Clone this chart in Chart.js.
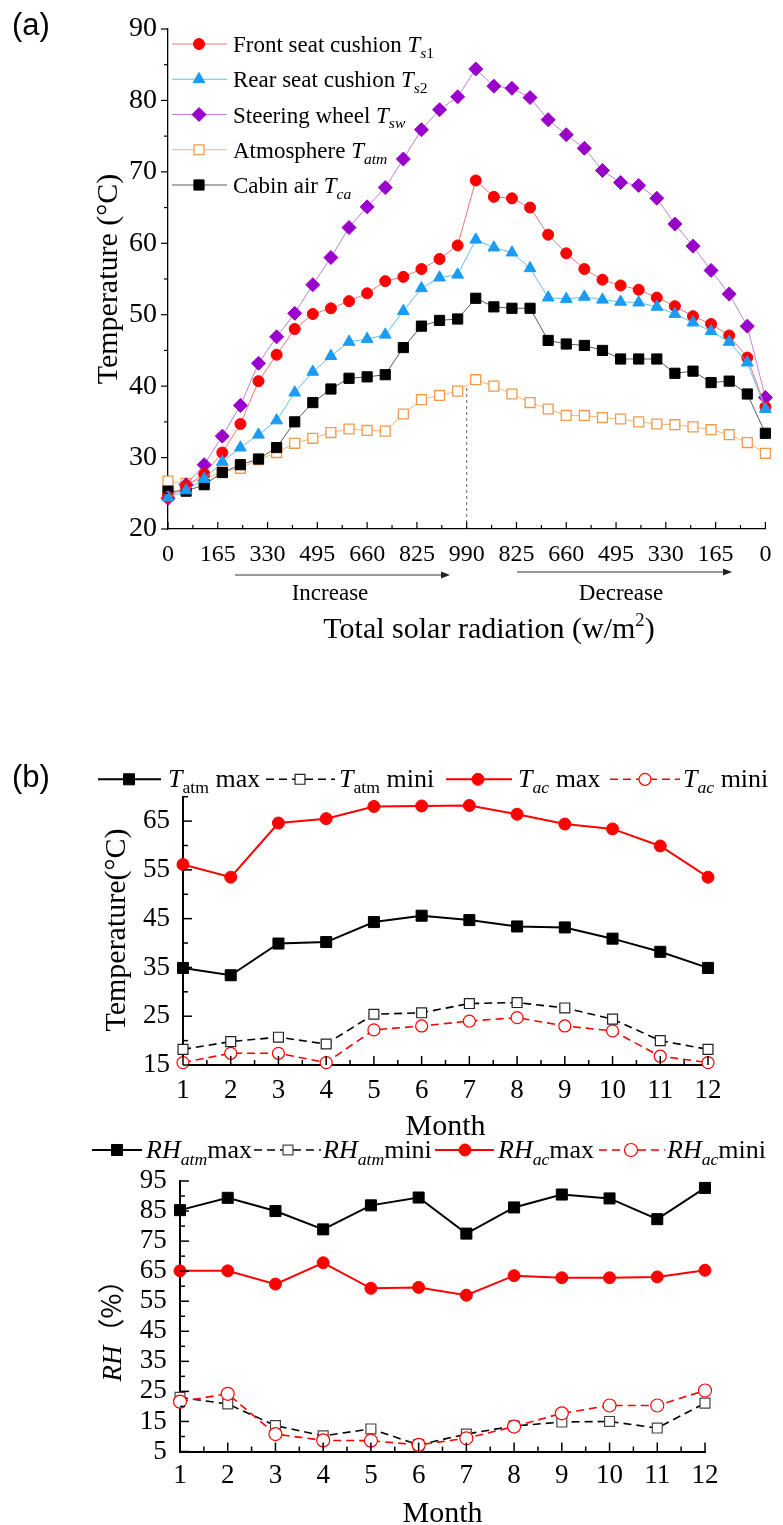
<!DOCTYPE html>
<html>
<head>
<meta charset="utf-8">
<script src="https://cdn.jsdelivr.net/npm/chart.js@4.4.1/dist/chart.umd.min.js"></script>
<style>
html,body{margin:0;padding:0;background:#fff;}
body{width:783px;height:1525px;position:relative;overflow:hidden;}
canvas{position:absolute;left:0;}
</style>
</head>
<body>
<canvas id="ca" width="783" height="690" style="top:0px;width:783px;height:690px"></canvas>
<canvas id="cb" width="783" height="405" style="top:740px;width:783px;height:405px"></canvas>
<canvas id="cc" width="783" height="405" style="top:1120px;width:783px;height:405px"></canvas>
<script>
// ---------------- DATA ----------------
// Panel (a): total solar radiation tick labels (increase then decrease)
const radiationTickLabels = ['0','165','330','495','660','825','990','825','660','495','330','165','0'];
const peakTickLabelIndex = 6; // the "990" tick
// Panel (a) series (°C), one value per measurement step
const frontSeat = [24.5,26.0,27.7,30.7,34.7,40.7,44.4,48.0,50.1,50.9,51.9,53.0,54.7,55.3,56.4,57.8,59.7,68.8,66.5,66.3,65.0,61.2,58.6,56.4,54.9,54.1,53.5,52.4,51.2,49.8,48.7,47.1,44.0,37.1];
const rearSeat = [24.4,25.4,27.0,29.4,31.4,33.2,35.2,39.1,42.0,44.2,46.2,46.6,47.2,50.5,53.7,55.2,55.6,60.5,59.4,58.7,56.5,52.4,52.2,52.5,52.1,51.8,51.7,51.1,50.1,48.9,47.7,46.2,43.3,36.8];
const steeringWheel = [24.3,26.2,29.0,33.0,37.3,43.2,46.9,50.2,54.2,58.0,62.2,65.1,67.8,71.8,75.9,78.7,80.5,84.4,82.0,81.7,80.4,77.3,75.2,73.3,70.2,68.5,68.1,66.3,62.7,59.6,56.2,52.9,48.4,38.4];
const atmosphere = [26.7,26.4,27.0,28.0,28.5,29.7,30.7,32.0,32.7,33.5,34.0,33.8,33.7,36.1,38.1,38.7,39.3,40.9,40.0,38.9,37.7,36.8,35.9,35.9,35.6,35.4,35.0,34.7,34.6,34.3,33.9,33.2,32.1,30.6];
const cabinAir = [25.3,25.3,26.2,27.9,29.0,29.8,31.4,35.0,37.7,39.6,41.1,41.3,41.6,45.4,48.4,49.2,49.4,52.3,51.1,50.9,50.9,46.4,45.9,45.7,45.0,43.8,43.8,43.8,41.8,42.1,40.5,40.7,38.9,33.4];

// Panels (b) and (c): months
const months = [1,2,3,4,5,6,7,8,9,10,11,12];
// Panel (b) temperatures (°C)
const tAtmMax = [34.9,33.4,39.9,40.2,44.3,45.6,44.7,43.4,43.2,40.9,38.2,34.9];
const tAtmMin = [18.2,19.8,20.7,19.3,25.4,25.7,27.6,27.8,26.7,24.4,20.0,18.2];
const tAcMax  = [56.1,53.5,64.6,65.5,68.0,68.1,68.2,66.4,64.4,63.4,59.9,53.5];
const tAcMin  = [15.5,17.4,17.4,15.5,22.2,23.0,24.0,24.7,23.0,22.0,16.8,15.5];
// Panel (c) relative humidity (%)
const rhAtmMax = [85.3,89.4,85.0,78.9,86.9,89.5,77.5,86.2,90.5,89.2,82.3,92.7];
const rhAtmMin = [23.0,20.8,13.6,10.2,12.5,7.2,10.8,13.5,14.8,15.0,12.8,21.1];
const rhAcMax  = [65.1,65.1,60.7,67.8,59.3,59.6,57.0,63.5,62.8,62.8,63.1,65.3];
const rhAcMin  = [21.6,24.2,10.8,8.7,8.6,7.2,9.4,13.3,17.7,20.3,20.3,25.3];

// ---------------- STYLE / HELPERS ----------------
const SERIF = '"Liberation Serif", "Times New Roman", serif';
const SANS = '"Liberation Sans", Arial, sans-serif';
const CJK = '"Noto Sans CJK SC", sans-serif';
Chart.defaults.font.family = SERIF;
Chart.defaults.color = '#000';

function drawRich(ctx, segs, x, y, o) {
  const F = o.size, fam = o.family || SERIF;
  const parts = segs.map(s => {
    const sz = (s.sub || s.sup) ? F * (o.subScale || 0.68) : F;
    const font = (s.i ? 'italic ' : '') + sz + 'px ' + (s.family || fam);
    ctx.font = font;
    return {t: s.t, font, w: ctx.measureText(s.t).width,
            dy: s.sub ? F * 0.26 : (s.sup ? -F * 0.4 : 0)};
  });
  const total = parts.reduce((a, p) => a + p.w, 0);
  ctx.save();
  ctx.translate(x, y);
  if (o.rotate) ctx.rotate(o.rotate);
  ctx.fillStyle = o.color || '#000';
  ctx.textAlign = 'left';
  ctx.textBaseline = 'alphabetic';
  let cx = o.align === 'center' ? -total / 2 : (o.align === 'right' ? -total : 0);
  for (const p of parts) { ctx.font = p.font; ctx.fillText(p.t, cx, p.dy); cx += p.w; }
  ctx.restore();
  return total;
}

function drawMarker(ctx, m, x, y) {
  const r = m.r;
  ctx.save();
  ctx.beginPath();
  if (m.style === 'circle') ctx.arc(x, y, r, 0, Math.PI * 2);
  else if (m.style === 'rect') { const h = r * Math.SQRT1_2; ctx.rect(x - h, y - h, 2 * h, 2 * h); }
  else if (m.style === 'triangle') {
    ctx.moveTo(x, y - r);
    ctx.lineTo(x + Math.sin(2 * Math.PI / 3) * r, y - Math.cos(2 * Math.PI / 3) * r);
    ctx.lineTo(x + Math.sin(4 * Math.PI / 3) * r, y - Math.cos(4 * Math.PI / 3) * r);
    ctx.closePath();
  } else if (m.style === 'rectRot') {
    ctx.moveTo(x - r, y); ctx.lineTo(x, y - r); ctx.lineTo(x + r, y); ctx.lineTo(x, y + r); ctx.closePath();
  }
  ctx.fillStyle = m.fill; ctx.fill();
  ctx.lineWidth = m.bw; ctx.strokeStyle = m.stroke; ctx.stroke();
  ctx.restore();
}

function legendItem(ctx, it, st, y, textY, fontSize) {
  ctx.save();
  ctx.strokeStyle = st.line; ctx.lineWidth = st.lw;
  ctx.setLineDash(st.dash || []);
  ctx.beginPath(); ctx.moveTo(it.x0, y); ctx.lineTo(it.x1, y); ctx.stroke();
  ctx.restore();
  drawMarker(ctx, st.marker, it.mx, y);
  drawRich(ctx, it.text, it.tx, textY, {size: fontSize});
}

function makeDataset(label, xs, values, st) {
  return {
    label,
    data: values.map((v, i) => ({x: xs[i], y: v})),
    borderColor: st.line, borderWidth: st.lw, borderDash: st.dash || [],
    pointStyle: st.marker.style, pointRadius: st.marker.r,
    pointBackgroundColor: st.marker.fill, pointBorderColor: st.marker.stroke,
    pointBorderWidth: st.marker.bw, pointHoverRadius: st.marker.r,
    tension: 0, clip: false, fill: false
  };
}

function tickPluginFor(cfg) {
  return {
    id: 'tickMarks',
    afterDatasetsDraw(chart) {
      const ctx = chart.ctx;
      for (const id of Object.keys(cfg)) {
        const c = cfg[id], sc = chart.scales[id];
        ctx.save();
        ctx.strokeStyle = '#000'; ctx.lineWidth = c.width;
        sc.ticks.forEach((t, i) => {
          const p = sc.getPixelForTick(i);
          const len = (t.label !== '' && t.label != null) ? c.major : c.minor;
          ctx.beginPath();
          if (sc.isHorizontal()) {
            const y0 = sc.top; const d = c.inward ? -1 : 1;
            ctx.moveTo(p, y0); ctx.lineTo(p, y0 + d * len);
          } else {
            const x0 = sc.right; const d = c.inward ? 1 : -1;
            ctx.moveTo(x0, p); ctx.lineTo(x0 + d * len, p);
          }
          ctx.stroke();
        });
        ctx.restore();
      }
    }
  };
}

function linearAxis(o) {
  return {
    type: 'linear', min: o.min, max: o.max,
    afterFit: o.fit,
    grid: {display: false, drawTicks: false},
    border: {display: true, color: '#000', width: o.bw},
    ticks: {stepSize: o.step, autoSkip: false, maxTicksLimit: 1000, maxRotation: 0, minRotation: 0,
            padding: o.pad, color: '#000', font: {family: SERIF, size: o.fs}, callback: o.cb}
  };
}

// ---------------- PANEL (a) ----------------
const sampleIndex = frontSeat.map((_, i) => i);
const lastIndex = sampleIndex[sampleIndex.length - 1];
const majorStep = lastIndex / (radiationTickLabels.length - 1);

const stFront = {line: '#f27575', lw: 1, marker: {style: 'circle', r: 5.5, fill: '#ff0000', stroke: '#ff0000', bw: 1}};
const stRear = {line: '#5ec0f2', lw: 1, marker: {style: 'triangle', r: 6.8, fill: '#1a9cf5', stroke: '#1a9cf5', bw: 1}};
const stSteer = {line: '#bf80e0', lw: 1, marker: {style: 'rectRot', r: 7, fill: '#9a00cc', stroke: '#9a00cc', bw: 1}};
const stAtm = {line: '#f5b57a', lw: 1, marker: {style: 'rect', r: 7, fill: '#ffffff', stroke: '#f09a4a', bw: 1.3}};
const stCabin = {line: '#5a5a5a', lw: 1, marker: {style: 'rect', r: 7.2, fill: '#000000', stroke: '#000000', bw: 1}};

const panelAText = {
  id: 'panelAText',
  beforeDatasetsDraw(chart) {
    const ctx = chart.ctx, xs = chart.scales.x, ys = chart.scales.y;
    const xv = peakTickLabelIndex * majorStep;
    const i0 = Math.floor(xv), f = xv - i0;
    const yTop = atmosphere[i0] + (atmosphere[i0 + 1] - atmosphere[i0]) * f;
    ctx.save();
    ctx.strokeStyle = '#666'; ctx.lineWidth = 1; ctx.setLineDash([3, 3]);
    ctx.beginPath();
    ctx.moveTo(xs.getPixelForValue(xv), ys.getPixelForValue(ys.min));
    ctx.lineTo(xs.getPixelForValue(xv), ys.getPixelForValue(yTop));
    ctx.stroke();
    ctx.restore();
  },
  afterDraw(chart) {
    const ctx = chart.ctx;
    drawRich(ctx, [{t: '(a)'}], 12, 35, {size: 31, family: SANS});
    const items = [
      {st: stFront, text: [{t: 'Front seat cushion '}, {t: 'T', i: 1}, {t: 's', i: 1, sub: 1}, {t: '1', sub: 1}]},
      {st: stRear, text: [{t: 'Rear seat cushion '}, {t: 'T', i: 1}, {t: 's', i: 1, sub: 1}, {t: '2', sub: 1}]},
      {st: stSteer, text: [{t: 'Steering wheel '}, {t: 'T', i: 1}, {t: 'sw', i: 1, sub: 1}]},
      {st: stAtm, text: [{t: 'Atmosphere '}, {t: 'T', i: 1}, {t: 'atm', i: 1, sub: 1}]},
      {st: stCabin, text: [{t: 'Cabin air '}, {t: 'T', i: 1}, {t: 'ca', i: 1, sub: 1}]}
    ];
    items.forEach((it, k) => {
      const y = 44 + 35.25 * k;
      legendItem(ctx, {x0: 172, x1: 227, mx: 199, tx: 233, text: it.text}, it.st, y, y + 8, 23);
    });
    drawRich(ctx, [{t: 'Temperature (°C)'}], 117, 279, {size: 30, rotate: -Math.PI / 2, align: 'center'});
    const arrow = (x0, x1, y) => {
      ctx.save();
      ctx.strokeStyle = '#333'; ctx.fillStyle = '#222'; ctx.lineWidth = 1;
      ctx.beginPath(); ctx.moveTo(x0, y); ctx.lineTo(x1 - 6, y); ctx.stroke();
      ctx.beginPath(); ctx.moveTo(x1, y); ctx.lineTo(x1 - 9, y - 3.5); ctx.lineTo(x1 - 9, y + 3.5); ctx.closePath(); ctx.fill();
      ctx.restore();
    };
    arrow(235, 450, 575);
    arrow(517, 732, 572);
    drawRich(ctx, [{t: 'Increase'}], 330, 600, {size: 23, align: 'center'});
    drawRich(ctx, [{t: 'Decrease'}], 621, 600, {size: 23, align: 'center'});
    drawRich(ctx, [{t: 'Total solar radiation (w/m'}, {t: '2', sup: 1}, {t: ')'}], 489, 638, {size: 30, align: 'center', subScale: 0.62});
  }
};

new Chart(document.getElementById('ca'), {
  type: 'line',
  data: {datasets: [
    makeDataset('Rear seat cushion', sampleIndex, rearSeat, stRear),
    makeDataset('Front seat cushion', sampleIndex, frontSeat, stFront),
    makeDataset('Steering wheel', sampleIndex, steeringWheel, stSteer),
    makeDataset('Cabin air', sampleIndex, cabinAir, stCabin),
    makeDataset('Atmosphere', sampleIndex, atmosphere, stAtm)
  ]},
  options: {
    responsive: false, animation: false, events: [],
    layout: {padding: {left: 0, top: 29, right: 7.5, bottom: 0}},
    plugins: {legend: {display: false}, tooltip: {enabled: false}},
    scales: {
      x: linearAxis({min: 0, max: lastIndex, step: majorStep / 2, bw: 1.3, pad: 11.6, fs: 24,
        fit: s => { s.height = 161; },
        cb: (v, i) => (i % 2 === 0 ? radiationTickLabels[i / 2] : '')}),
      y: linearAxis({min: 20, max: 90, step: 5, bw: 1.3, pad: 11, fs: 28,
        fit: s => { s.width = 168; },
        cb: v => (v % 10 === 0 ? String(v) : '')})
    }
  },
  plugins: [tickPluginFor({x: {inward: true, major: 7, minor: 4, width: 1.2}, y: {inward: false, major: 7, minor: 4, width: 1.2}}), panelAText]
});

// ---------------- PANEL (b) ----------------
const stAtmMaxB = {line: '#000', lw: 2, marker: {style: 'rect', r: 7.8, fill: '#000', stroke: '#000', bw: 1}};
const stAtmMinB = {line: '#000', lw: 1.6, dash: [8, 5], marker: {style: 'rect', r: 7, fill: '#fff', stroke: '#222', bw: 1.2}};
const stAcMaxB = {line: '#ff0000', lw: 2, marker: {style: 'circle', r: 6, fill: '#ff0000', stroke: '#ff0000', bw: 1}};
const stAcMinB = {line: '#ff0000', lw: 1.6, dash: [8, 5], marker: {style: 'circle', r: 6, fill: '#fff', stroke: '#ff0000', bw: 1.2}};

const panelBText = {
  id: 'panelBText',
  afterDraw(chart) {
    const ctx = chart.ctx;
    drawRich(ctx, [{t: '(b)'}], 12, 47, {size: 31, family: SANS});
    const y = 39.3, ty = 46.7, fs = 26;
    legendItem(ctx, {x0: 98, x1: 161, mx: 129, tx: 168, text: [{t: 'T', i: 1}, {t: 'atm', sub: 1}, {t: ' max'}]}, stAtmMaxB, y, ty, fs);
    legendItem(ctx, {x0: 266, x1: 335, mx: 300, tx: 339, text: [{t: 'T', i: 1}, {t: 'atm', sub: 1}, {t: ' mini'}]}, stAtmMinB, y, ty, fs);
    legendItem(ctx, {x0: 446, x1: 512, mx: 478, tx: 518, text: [{t: 'T', i: 1}, {t: 'ac', i: 1, sub: 1}, {t: ' max'}]}, stAcMaxB, y, ty, fs);
    legendItem(ctx, {x0: 610, x1: 680, mx: 645, tx: 683, text: [{t: 'T', i: 1}, {t: 'ac', i: 1, sub: 1}, {t: ' mini'}]}, stAcMinB, y, ty, fs);
    drawRich(ctx, [{t: 'Temperature(°C)'}], 125, 190, {size: 30, rotate: -Math.PI / 2, align: 'center'});
    const xs = chart.scales.x;
    drawRich(ctx, [{t: 'Month'}], (xs.left + xs.right) / 2, 395, {size: 30, align: 'center'});
  }
};

new Chart(document.getElementById('cb'), {
  type: 'line',
  data: {datasets: [
    makeDataset('Tac max', months, tAcMax, stAcMaxB),
    makeDataset('Tatm max', months, tAtmMax, stAtmMaxB),
    makeDataset('Tatm mini', months, tAtmMin, stAtmMinB),
    makeDataset('Tac mini', months, tAcMin, stAcMinB)
  ]},
  options: {
    responsive: false, animation: false, events: [],
    layout: {padding: {left: 0, top: 56.7, right: 75, bottom: 0}},
    plugins: {legend: {display: false}, tooltip: {enabled: false}},
    scales: {
      x: linearAxis({min: 1, max: 12, step: 0.5, bw: 2, pad: 9.8, fs: 27,
        fit: s => { s.height = 80; },
        cb: v => (Number.isInteger(v) ? String(v) : '')}),
      y: linearAxis({min: 15, max: 70, step: 5, bw: 2, pad: 13, fs: 27,
        fit: s => { s.width = 183; },
        cb: v => ((v - 15) % 10 === 0 ? String(v) : '')})
    }
  },
  plugins: [tickPluginFor({x: {inward: true, major: 9, minor: 5, width: 1.5}, y: {inward: true, major: 9, minor: 5, width: 1.5}}), panelBText]
});

// ---------------- PANEL (c) ----------------
const stAtmMaxC = {line: '#000', lw: 2, marker: {style: 'rect', r: 7.8, fill: '#000', stroke: '#000', bw: 1}};
const stAtmMinC = {line: '#000', lw: 1.6, dash: [8, 5], marker: {style: 'rect', r: 7, fill: '#fff', stroke: '#444', bw: 1.2}};
const stAcMaxC = {line: '#ff0000', lw: 2, marker: {style: 'circle', r: 6, fill: '#ff0000', stroke: '#ff0000', bw: 1}};
const stAcMinC = {line: '#ff0000', lw: 1.6, dash: [8, 5], marker: {style: 'circle', r: 6.5, fill: '#fff', stroke: '#ff0000', bw: 1.2}};

const panelCText = {
  id: 'panelCText',
  afterDraw(chart) {
    const ctx = chart.ctx;
    const y = 30, ty = 38, fs = 26;
    legendItem(ctx, {x0: 92, x1: 142, mx: 117, tx: 146, text: [{t: 'RH', i: 1}, {t: 'atm', i: 1, sub: 1}, {t: 'max'}]}, stAtmMaxC, y, ty, fs);
    legendItem(ctx, {x0: 254, x1: 321, mx: 288, tx: 323, text: [{t: 'RH', i: 1}, {t: 'atm', i: 1, sub: 1}, {t: 'mini'}]}, stAtmMinC, y, ty, fs);
    legendItem(ctx, {x0: 435, x1: 494, mx: 465, tx: 498, text: [{t: 'RH', i: 1}, {t: 'ac', i: 1, sub: 1}, {t: 'max'}]}, stAcMaxC, y, ty, fs);
    legendItem(ctx, {x0: 599, x1: 665, mx: 631, tx: 667, text: [{t: 'RH', i: 1}, {t: 'ac', i: 1, sub: 1}, {t: 'mini'}]}, stAcMinC, y, ty, fs);
    drawRich(ctx, [{t: 'RH', i: 1}, {t: '（%）', family: CJK}], 121, 204, {size: 27, rotate: -Math.PI / 2, align: 'center'});
    const xs = chart.scales.x;
    drawRich(ctx, [{t: 'Month'}], (xs.left + xs.right) / 2, 401.7, {size: 30, align: 'center'});
  }
};

new Chart(document.getElementById('cc'), {
  type: 'line',
  data: {datasets: [
    makeDataset('RHac max', months, rhAcMax, stAcMaxC),
    makeDataset('RHatm max', months, rhAtmMax, stAtmMaxC),
    makeDataset('RHac mini', months, rhAcMin, stAcMinC),
    makeDataset('RHatm mini', months, rhAtmMin, stAtmMinC)
  ]},
  options: {
    responsive: false, animation: false, events: [],
    layout: {padding: {left: 0, top: 61, right: 78, bottom: 0}},
    plugins: {legend: {display: false}, tooltip: {enabled: false}},
    scales: {
      x: linearAxis({min: 1, max: 12, step: 0.5, bw: 2, pad: 8.3, fs: 27,
        fit: s => { s.height = 73.5; },
        cb: v => (Number.isInteger(v) ? String(v) : '')}),
      y: linearAxis({min: 5, max: 95, step: 5, bw: 2, pad: 13.3, fs: 27,
        fit: s => { s.width = 180; },
        cb: v => ((v - 5) % 10 === 0 ? String(v) : '')})
    }
  },
  plugins: [tickPluginFor({x: {inward: true, major: 9, minor: 5, width: 1.5}, y: {inward: true, major: 9, minor: 5, width: 1.5}}), panelCText]
});
</script>
</body>
</html>
